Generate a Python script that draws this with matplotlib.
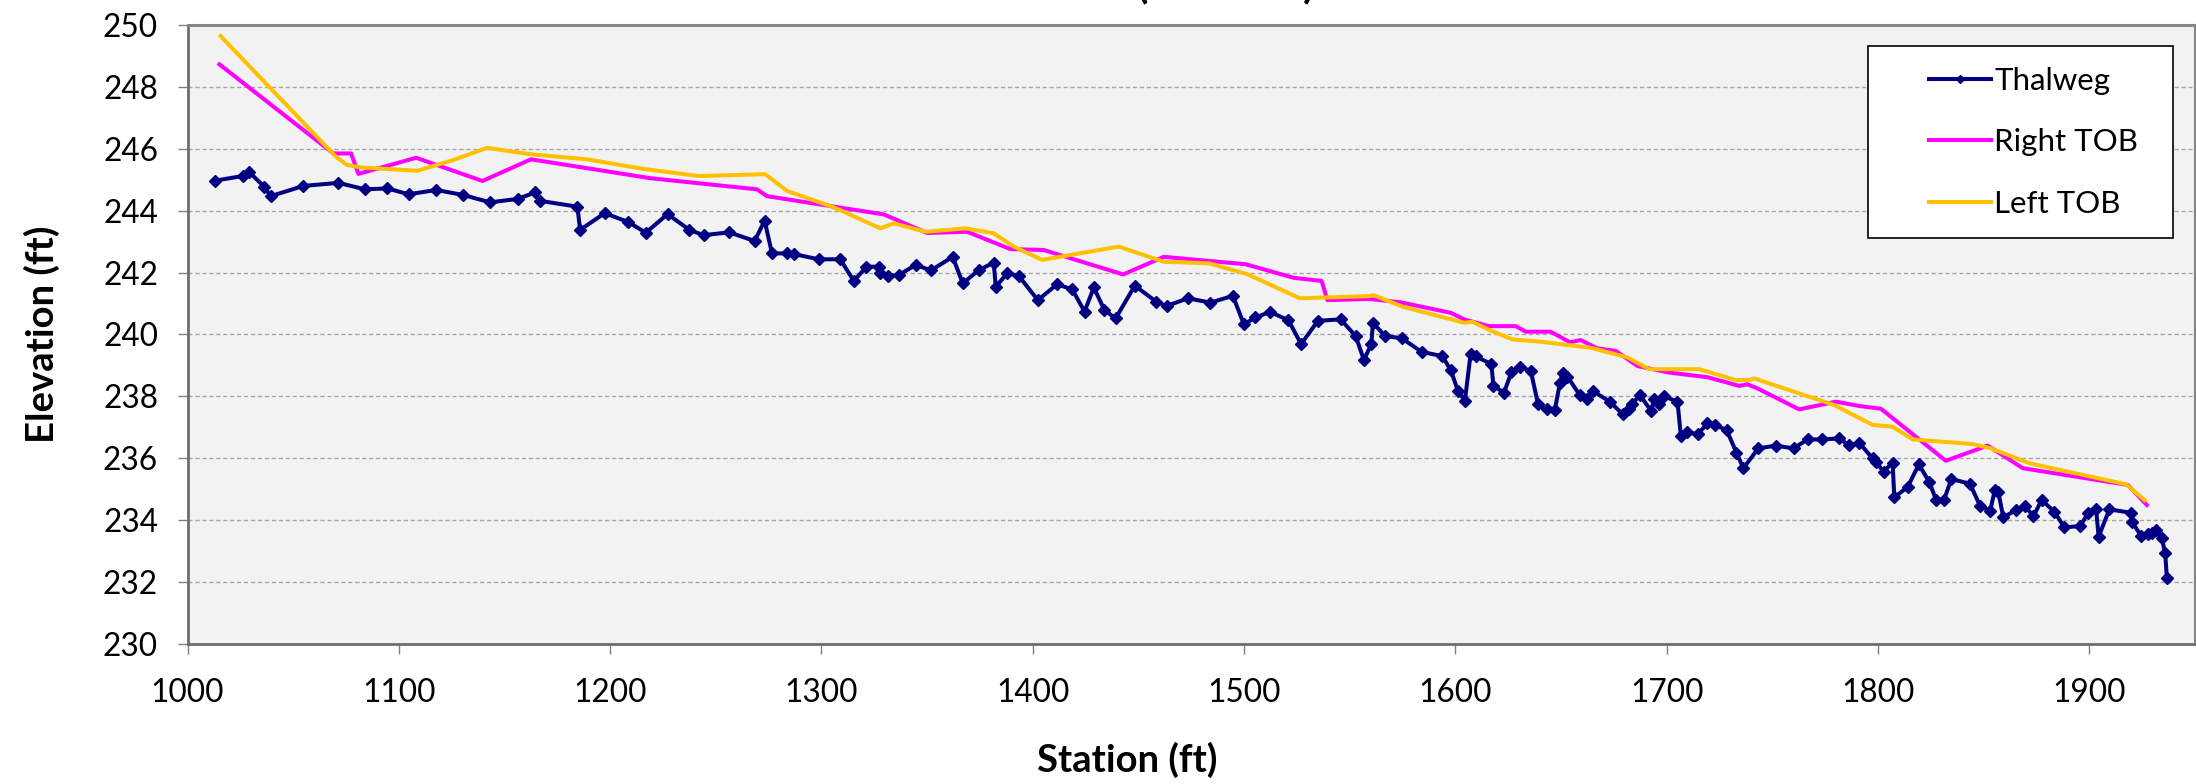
import numpy as np
import matplotlib
matplotlib.use("Agg")
import matplotlib.pyplot as plt
from matplotlib.patches import Rectangle

plt.rcParams['font.family'] = ['Lato', 'DejaVu Sans']

# station (ft) / elevation (ft)
thalweg_sta = [1013.0, 1026.1, 1029.3, 1036.2, 1039.4, 1054.8, 1071.4, 1084.0, 1094.6, 1104.6,
               1117.7, 1130.3, 1143.2, 1156.2, 1164.5, 1166.6, 1184.5, 1185.8, 1197.4, 1208.4,
               1216.9, 1227.2, 1237.5, 1244.2, 1256.4, 1268.4, 1273.1, 1276.6, 1283.7, 1286.8,
               1298.7, 1308.9, 1315.3, 1321.3, 1327.3, 1327.8, 1331.4, 1336.6, 1344.6, 1351.8,
               1362.1, 1366.9, 1374.4, 1381.5, 1382.5, 1387.9, 1393.4, 1402.4, 1411.5, 1418.7,
               1424.5, 1428.9, 1433.9, 1439.2, 1448.3, 1458.4, 1463.3, 1473.4, 1484.1, 1494.7,
               1499.9, 1505.4, 1512.3, 1521.0, 1527.0, 1534.9, 1545.7, 1552.8, 1556.7, 1560.2,
               1561.0, 1566.7, 1574.6, 1584.0, 1593.8, 1597.8, 1601.2, 1604.5, 1607.2, 1609.6,
               1617.0, 1618.0, 1623.0, 1626.5, 1630.5, 1635.7, 1639.1, 1643.2, 1647.0, 1649.5,
               1650.7, 1653.0, 1658.8, 1662.5, 1664.9, 1673.3, 1679.2, 1682.3, 1683.6, 1687.4,
               1692.7, 1694.0, 1696.4, 1698.8, 1705.1, 1706.7, 1709.8, 1714.6, 1719.3, 1722.9,
               1728.4, 1733.0, 1736.3, 1743.3, 1751.7, 1760.0, 1766.7, 1773.3, 1781.3, 1786.4,
               1791.1, 1797.4, 1799.0, 1802.6, 1806.9, 1807.7, 1814.0, 1819.3, 1824.3, 1827.5,
               1831.2, 1834.7, 1843.5, 1848.3, 1853.1, 1855.3, 1856.9, 1859.3, 1865.3, 1869.5,
               1873.5, 1877.4, 1883.4, 1888.2, 1895.7, 1899.5, 1903.2, 1904.4, 1909.5, 1919.7,
               1920.2, 1924.5, 1927.7, 1929.6, 1931.6, 1934.3, 1935.9, 1936.7]
thalweg_elev = [244.97, 245.12, 245.24, 244.78, 244.47, 244.80, 244.90, 244.69, 244.72, 244.53,
                244.67, 244.51, 244.27, 244.38, 244.59, 244.32, 244.13, 243.38, 243.92, 243.64,
                243.29, 243.89, 243.38, 243.21, 243.30, 243.02, 243.68, 242.62, 242.62, 242.60,
                242.43, 242.43, 241.73, 242.19, 242.19, 241.99, 241.89, 241.92, 242.25, 242.07,
                242.51, 241.65, 242.08, 242.32, 241.54, 241.98, 241.89, 241.11, 241.62, 241.46,
                240.74, 241.52, 240.79, 240.52, 241.58, 241.06, 240.92, 241.17, 241.03, 241.25,
                240.33, 240.55, 240.73, 240.46, 239.69, 240.44, 240.49, 239.95, 239.18, 239.68,
                240.38, 239.95, 239.88, 239.44, 239.30, 238.85, 238.18, 237.86, 239.37, 239.29,
                239.05, 238.34, 238.12, 238.78, 238.96, 238.82, 237.75, 237.58, 237.55, 238.44,
                238.75, 238.64, 238.05, 237.92, 238.18, 237.82, 237.42, 237.58, 237.77, 238.03,
                237.53, 237.91, 237.76, 238.00, 237.83, 236.72, 236.86, 236.77, 237.13, 237.08,
                236.91, 236.18, 235.68, 236.32, 236.41, 236.32, 236.61, 236.61, 236.64, 236.43,
                236.50, 236.00, 235.89, 235.57, 235.86, 234.74, 235.07, 235.80, 235.23, 234.65,
                234.65, 235.33, 235.18, 234.46, 234.31, 234.98, 234.92, 234.09, 234.33, 234.47,
                234.12, 234.65, 234.28, 233.77, 233.81, 234.24, 234.35, 233.47, 234.35, 234.24,
                233.95, 233.49, 233.55, 233.58, 233.69, 233.42, 232.93, 232.12]

right_sta = [1015.1, 1069.0, 1077.4, 1080.9, 1108.2, 1139.6, 1162.5, 1219.0, 1269.5, 1274.2,
             1329.5, 1350.0, 1368.9, 1389.4, 1405.2, 1442.8, 1462.0, 1500.7, 1523.6, 1536.7,
             1539.4, 1559.1, 1574.1, 1597.8, 1604.1, 1615.9, 1628.6, 1633.3, 1645.1, 1654.2,
             1659.3, 1667.2, 1675.9, 1686.2, 1701.1, 1719.3, 1734.3, 1738.2, 1742.9, 1762.7,
             1780.1, 1791.1, 1801.4, 1832.1, 1851.9, 1868.5, 1918.2, 1927.2]
right_elev = [248.73, 245.85, 245.85, 245.19, 245.71, 244.96, 245.66, 245.05, 244.69, 244.47,
              243.88, 243.28, 243.32, 242.76, 242.73, 241.94, 242.51, 242.27, 241.83, 241.73,
              241.11, 241.15, 241.04, 240.70, 240.49, 240.27, 240.27, 240.09, 240.09, 239.75,
              239.82, 239.55, 239.47, 238.98, 238.77, 238.62, 238.34, 238.39, 238.26, 237.58,
              237.83, 237.69, 237.60, 235.92, 236.41, 235.68, 235.14, 234.49]

left_sta = [1015.7, 1070.3, 1075.4, 1081.7, 1108.8, 1125.9, 1141.7, 1162.8, 1189.0, 1215.8,
            1241.9, 1273.4, 1283.7, 1305.8, 1327.9, 1334.2, 1349.2, 1368.1, 1381.5, 1391.0,
            1404.4, 1440.7, 1462.0, 1483.3, 1501.5, 1526.4, 1559.1, 1561.4, 1574.9, 1604.1,
            1608.1, 1615.9, 1627.0, 1640.0, 1664.1, 1681.4, 1691.7, 1715.3, 1732.7, 1739.0,
            1741.4, 1779.3, 1797.4, 1806.9, 1816.4, 1844.8, 1853.5, 1871.6, 1917.4, 1926.1]
left_elev = [249.64, 245.74, 245.48, 245.40, 245.29, 245.64, 246.03, 245.82, 245.66, 245.35,
             245.12, 245.18, 244.64, 244.11, 243.43, 243.59, 243.32, 243.43, 243.27, 242.84,
             242.41, 242.84, 242.35, 242.30, 241.95, 241.17, 241.24, 241.27, 240.90, 240.38,
             240.41, 240.15, 239.84, 239.77, 239.57, 239.26, 238.88, 238.88, 238.53, 238.53,
             238.58, 237.72, 237.08, 237.02, 236.61, 236.46, 236.32, 235.84, 235.16, 234.65]

x_ticks = np.arange(1000, 1901, 100)
y_ticks = np.arange(230, 251, 2)

W, H = 2196, 784
fig = plt.figure(figsize=(W / 100, H / 100), dpi=100)
fig.patch.set_facecolor("white")

# plot area in pixels: left 187.5, right 2195, top 25, bottom 644
ax = fig.add_axes([187.5 / W, 1 - 644 / H, (2195 - 187.5) / W, (644 - 25) / H])
ax.set_facecolor("#F2F2F2")

ax.plot(thalweg_sta, thalweg_elev, color="#000080", lw=2.9, marker="D", ms=6.5,
        label="Thalweg", zorder=3)
ax.plot(right_sta, right_elev, color="#FF00FF", lw=2.9, label="Right TOB", zorder=2)
ax.plot(left_sta, left_elev, color="#FFC000", lw=2.9, label="Left TOB", zorder=2)

ax.set_xlim(1000, 1950)
ax.set_ylim(230, 250)
ax.set_xticks(x_ticks)
ax.set_yticks(y_ticks)
ax.yaxis.grid(True, color="#A6A6A6", lw=1.0, linestyle=(0, (3, 2)))
ax.set_axisbelow(True)

for side in ["top", "right"]:
    ax.spines[side].set_color("#868686")
    ax.spines[side].set_linewidth(2.2)
for side in ["left", "bottom"]:
    ax.spines[side].set_color("#6e6e6e")
    ax.spines[side].set_linewidth(2.0)

ax.tick_params(axis="both", direction="out", length=7.2, width=1, color="#7f7f7f",
               labelsize=22.8)
ax.tick_params(axis="y", pad=14)
ax.tick_params(axis="x", pad=17)

ax.set_xlabel("Station (ft)", fontsize=27.5, fontweight="bold", va="center")
ax.xaxis.set_label_coords(0.468, -0.187)
ax.set_ylabel("Elevation (ft)", fontsize=27.5, fontweight="bold", va="center")
ax.yaxis.set_label_coords(-0.0725, 0.5)

# chart title: only the bottoms of its brackets fall inside the canvas
fig.text(1226 / W, 1 + 3 / H, "(Baseline)", ha="center", va="baseline",
         fontsize=30, fontweight="bold")

# legend box
box = Rectangle((1868 / W, 1 - 238 / H), 305 / W, 192 / H, transform=fig.transFigure,
                facecolor="white", edgecolor="black", lw=1.2, zorder=8)
ax.add_patch(box)
box.set_clip_on(False)
leg = ax.legend(loc="upper left", bbox_to_anchor=(1913 / W, 1 - 51 / H),
                bbox_transform=fig.transFigure, frameon=False, borderpad=0,
                handlelength=2.0, handletextpad=0.1, labelspacing=1.08,
                fontsize=22.5, markerscale=0.7)
leg.set_zorder(10)

fig.savefig("out.png", dpi=100)
